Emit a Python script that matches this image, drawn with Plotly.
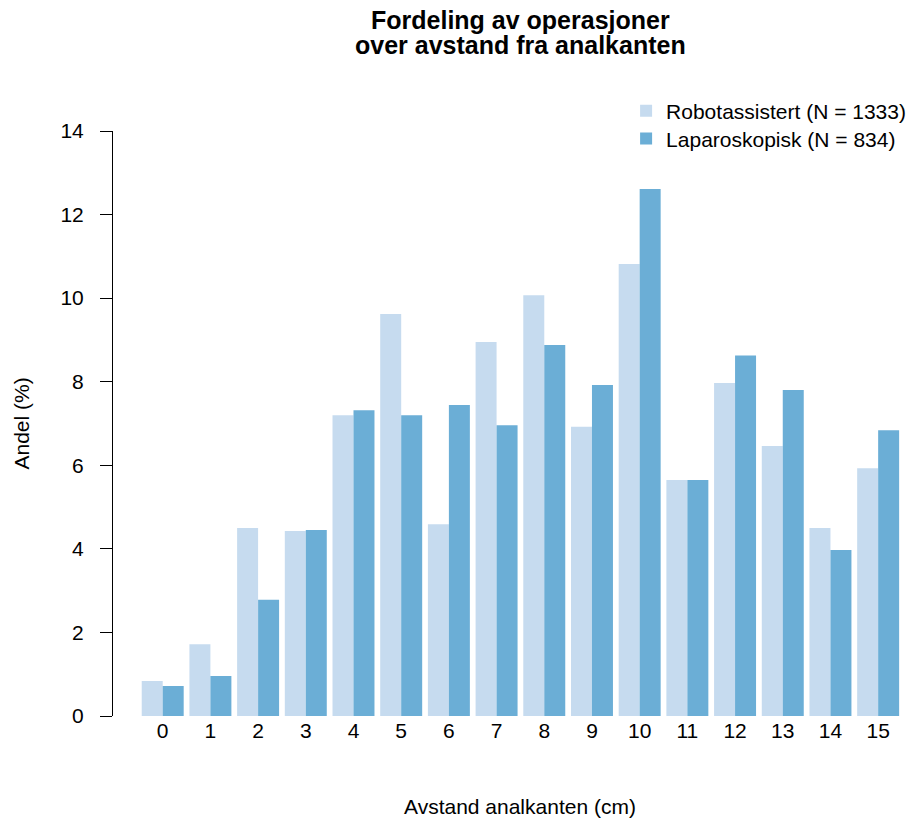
import plotly.graph_objects as go

categories = [str(i) for i in range(16)]
robot = [0.84, 1.72, 4.50, 4.43, 7.20, 9.62, 4.59, 8.95, 10.07, 6.92, 10.82, 5.65, 7.97, 6.46, 4.50, 5.93]
lap = [0.72, 0.96, 2.78, 4.45, 7.32, 7.20, 7.44, 6.96, 8.88, 7.92, 12.61, 5.65, 8.63, 7.80, 3.97, 6.84]
robot_name = "Robotassistert (N = 1333)"
lap_name = "Laparoskopisk (N = 834)"
y_ticks = [0, 2, 4, 6, 8, 10, 12, 14]
title_lines = ["Fordeling av operasjoner", "over avstand fra analkanten"]
x_title = "Avstand analkanten (cm)"
y_title = "Andel (%)"

FONT = "Liberation Sans, Arial, sans-serif"

fig = go.Figure()
fig.add_trace(go.Bar(x=categories, y=robot, name=robot_name, legend="legend", showlegend=True,
                     marker=dict(color="#c6dbef", line=dict(width=0))))
fig.add_trace(go.Bar(x=categories, y=lap, name=lap_name, legend="legend2", showlegend=True,
                     marker=dict(color="#6baed6", line=dict(width=0))))

annotations = [
    dict(text="<b>%s</b>" % title_lines[0], xref="x domain", yref="paper", x=0.5, y=1,
         xanchor="center", yanchor="middle", yshift=111, showarrow=False, font=dict(size=25)),
    dict(text="<b>%s</b>" % title_lines[1], xref="x domain", yref="paper", x=0.5, y=1,
         xanchor="center", yanchor="middle", yshift=86, showarrow=False, font=dict(size=25)),
    dict(text=x_title, xref="x domain", yref="paper", x=0.5, y=0,
         xanchor="center", yanchor="middle", yshift=-90, showarrow=False, font=dict(size=21)),
    dict(text=y_title, xref="paper", yref="paper", x=0, y=0.5, textangle=-90,
         xanchor="center", yanchor="middle", xshift=-91, showarrow=False, font=dict(size=21)),
]

leg_common = dict(xref="container", yref="container", x=0.677, xanchor="left", yanchor="middle",
                  bgcolor="rgba(0,0,0,0)", font=dict(size=21), visible=True)

fig.update_layout(
    width=913, height=813, showlegend=True,
    margin=dict(l=104, r=19, t=123, b=105, pad=0, autoexpand=False),
    paper_bgcolor="white", plot_bgcolor="white",
    font=dict(family=FONT, size=21, color="black"),
    barmode="group", bargap=0.12, bargroupgap=0,
    annotations=annotations,
    legend=dict(y=0.8733, **leg_common),
    legend2=dict(y=0.8389, **leg_common),
    xaxis=dict(domain=[0.034, 1], range=[-0.5, 15.5], showline=False, showgrid=False,
               ticks="", tickfont=dict(size=21), automargin=False),
    yaxis=dict(anchor="free", position=0, range=[0, 14], tickvals=y_ticks, showgrid=False,
               showline=True, linecolor="black", linewidth=1, ticks="outside", ticklen=12,
               tickcolor="black", zeroline=False, tickfont=dict(size=21), ticklabelstandoff=12,
               automargin=False),
)
fig.write_html("out.html")
